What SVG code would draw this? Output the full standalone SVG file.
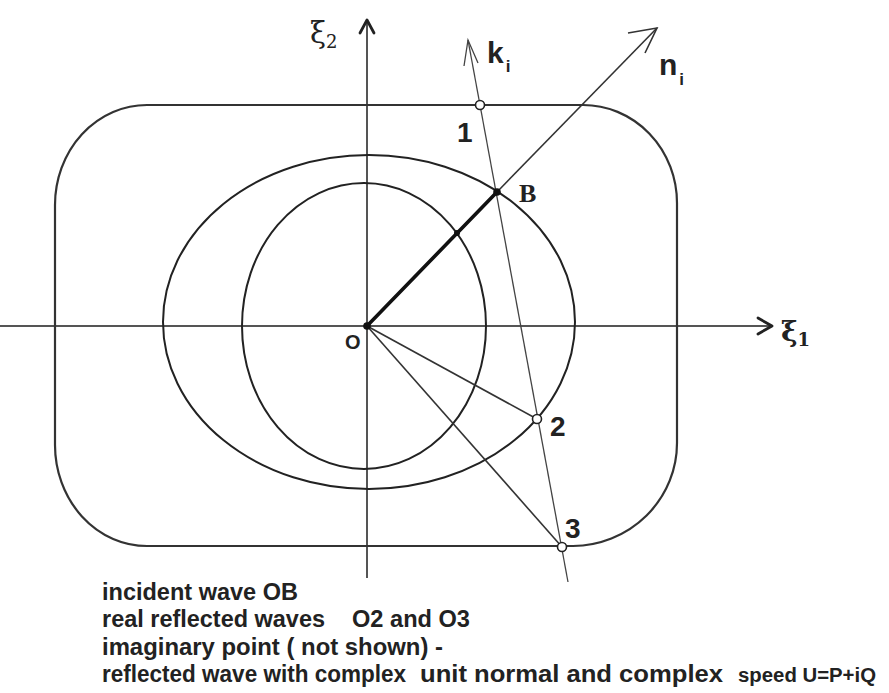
<svg xmlns="http://www.w3.org/2000/svg" width="889" height="693" viewBox="0 0 889 693">
<style>
  .ax { stroke:#555; stroke-width:2; fill:none; }
  .axh { stroke:#222; stroke-width:2.8; fill:none; stroke-linecap:round; stroke-linejoin:round; }
  .curve { stroke:#222; stroke-width:2; fill:none; }
  .rect { stroke:#333; stroke-width:2.2; fill:none; }
  .thin { stroke:#444; stroke-width:1.3; fill:none; }
  .ln { stroke:#333; stroke-width:1.6; fill:none; }
  .thick { stroke:#111; stroke-width:3.6; fill:none; stroke-linecap:round; }
  .pt { fill:#fff; stroke:#222; stroke-width:1.6; }
  .dot { fill:#111; }
  .lbl { font-family:"Liberation Sans", Arial, sans-serif; fill:#222; }
  .b { font-weight:bold; }
  .greek { font-family:"DejaVu Serif", "Liberation Serif", serif; fill:#222; }
  .note { font-family:"Liberation Sans", Arial, sans-serif; font-weight:bold; font-size:23px; fill:#222; }
  .note.sm { font-size:20px; }
</style>

<g id="axes">
  <line class="ax" x1="0" y1="326" x2="770" y2="326"/>
  <polyline class="axh" points="758,318 772,326 758,334"/>
  <line class="ax" x1="367" y1="578" x2="367" y2="22"/>
  <polyline class="axh" points="360,33 367,20 374,33"/>
  <text class="greek" x="310" y="43" font-size="29">ξ<tspan font-size="18" dy="5">2</tspan></text>
  <text class="greek" x="781" y="341" font-size="28" font-weight="bold">ξ<tspan font-size="18" dy="5">1</tspan></text>
</g>

<g id="outer-shape">
  <path class="rect" d="M147,105 H583 A94,98 0 0 1 677,203 V443 A105,103 0 0 1 573,546 H147 A92,101 0 0 1 55,445 V205 A92,100 0 0 1 147,105 Z"/>
</g>

<g id="outer-ellipse">
  <ellipse class="curve" cx="369" cy="322" rx="206" ry="167"/>
</g>

<g id="inner-ellipse">
  <ellipse class="curve" cx="364" cy="326" rx="122" ry="143"/>
</g>

<g id="connectors">
  <line class="ln" x1="497" y1="192" x2="657" y2="28"/>
  <polyline class="ln" points="628,33 657,28 645,53"/>
  <line class="thin" x1="468" y1="40" x2="568" y2="582"/>
  <polyline class="thin" points="464,66 468,40 478,63"/>
  <line class="thick" x1="367" y1="326" x2="497" y2="192"/>
  <line class="ln" x1="367" y1="326" x2="537" y2="419"/>
  <line class="ln" x1="367" y1="326" x2="562" y2="547"/>
</g>

<g id="O">
  <circle class="dot" cx="367" cy="326" r="3.8"/>
  <text class="lbl b" x="345" y="349" font-size="20">O</text>
</g>

<g id="B">
  <circle class="dot" cx="497" cy="192" r="3.8"/>
  <circle class="dot" cx="457" cy="233" r="3"/>
  <text x="519" y="202" font-family="'Liberation Serif', 'Times New Roman', serif" font-weight="bold" font-size="26" fill="#222">B</text>
</g>

<g id="P1">
  <circle class="pt" cx="480" cy="105" r="4.5"/>
  <text class="lbl b" x="457" y="142" font-size="28">1</text>
</g>

<g id="P2">
  <circle class="pt" cx="537" cy="419" r="4.5"/>
  <text class="lbl b" x="550" y="436" font-size="28">2</text>
</g>

<g id="P3">
  <circle class="pt" cx="562" cy="547" r="4.5"/>
  <text class="lbl b" x="565" y="538" font-size="28">3</text>
</g>

<g id="ki-label">
  <text class="lbl b" x="487" y="63" font-size="30">k<tspan font-size="17" dx="2" dy="9">i</tspan></text>
</g>

<g id="ni-label">
  <text class="lbl b" x="659" y="75" font-size="30">n<tspan font-size="17" dx="2" dy="10">i</tspan></text>
</g>

<g id="notes">
  <text class="note" x="102" y="600" textLength="196" lengthAdjust="spacingAndGlyphs">incident wave OB</text>
  <text class="note" x="102" y="627" textLength="223" lengthAdjust="spacingAndGlyphs">real reflected waves</text>
  <text class="note" x="352" y="627" textLength="118" lengthAdjust="spacingAndGlyphs">O2 and O3</text>
  <text class="note" x="102" y="655" textLength="341" lengthAdjust="spacingAndGlyphs">imaginary point ( not shown) -</text>
  <text class="note" x="102" y="682" textLength="304" lengthAdjust="spacingAndGlyphs">reflected wave with complex</text>
  <text class="note" x="420" y="682" textLength="303" lengthAdjust="spacingAndGlyphs">unit normal and complex</text>
  <text class="note sm" x="738" y="682" textLength="138" lengthAdjust="spacingAndGlyphs">speed U=P+iQ</text>
</g>
</svg>
